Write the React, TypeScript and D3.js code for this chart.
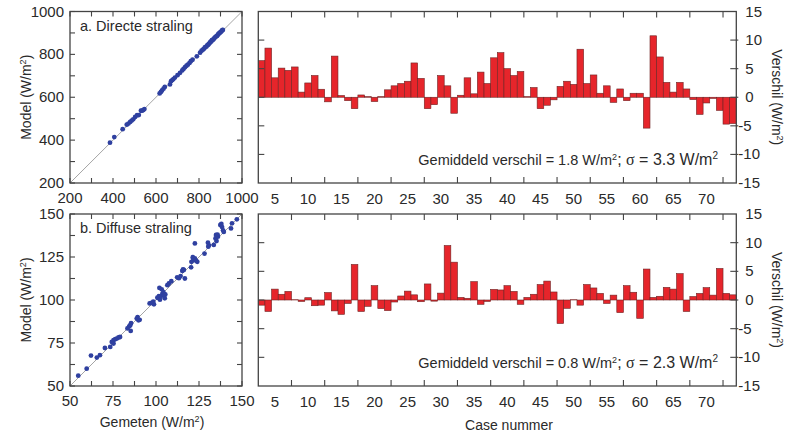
import React, { useEffect, useRef } from 'react'
import * as d3 from 'd3'

// case number of the first bar; one bar per case
const firstCase = 3

const directDiff = [
  6.4, 8.6, 3.4, 5.1, 4.7, 5.3, 0.9, 2.5, 3.8, 1.4,
  -0.8, 7.2, 0.3, -0.6, -2.0, 0.4, 0.1, -0.75, 0.1, 1.3,
  2.0, 2.4, 2.8, 6.0, 3.3, -2.0, -1.3, 3.8, 2.0, -2.8,
  0.35, 3.4, 0.6, 4.4, 2.4, 6.9, 7.8, 5.0, 3.8, 4.5,
  0.1, 1.7, -2.0, -1.4, -0.45, 1.9, 2.8, 2.25, 8.4, 2.4,
  3.9, 0.7, 2.0, -0.9, 1.45, -0.6, 0.7, 0.7, -5.4, 10.75,
  7.05, 2.6, 0.9, 2.6, 1.45, -0.4, -3.0, -1.0, -0.2, -2.3, -4.7, -4.6,
]

const diffuseDiff = [
  -0.9, -2.0, 1.9, 1.0, 1.5, 0.05, -0.25, 0.4, -1.0, -0.9,
  1.3, -1.9, -2.5, -0.6, 6.2, -2.0, -1.1, 2.5, -1.5, -1.85,
  -0.35, 0.7, 1.55, 0.9, -0.3, 2.8, -0.2, 1.2, 9.5, 6.6,
  0.45, 0.3, 3.2, -0.75, -0.25, 1.85, 1.75, 2.5, 1.5, -0.75,
  0.45, 1.0, 2.7, 3.3, 1.4, -4.1, -1.45, 0.05, -0.9, 2.7,
  2.1, 1.15, -0.6, 0.85, -2.2, 2.5, 1.35, -3.2, 5.4, 0.45,
  0.65, 2.2, 1.9, 4.6, -2.0, 0.6, 1.15, 2.15, 0.85, 5.5, 1.15, 0.9,
]

const directMeasured = [
  386, 406, 445, 464, 472, 480, 487, 494, 503, 512,
  520, 530, 536, 541, 546, 617, 623, 628, 635, 641,
  665, 670, 676, 681, 688, 700, 712, 722, 728, 735,
  742, 748, 756, 762, 770, 790, 805, 812, 818, 823,
  827, 831, 835, 839, 843, 846, 850, 853, 857, 860,
  864, 868, 872, 876, 880, 884, 887, 890, 893, 896,
  899, 902, 905, 908, 911,
]
const directModel = [
  388, 414, 451, 472, 477, 485, 491, 497, 508, 516,
  517, 537, 538, 540, 545, 618, 625, 632, 640, 648,
  660, 675, 680, 685, 692, 703, 714, 725, 732, 740,
  747, 752, 760, 768, 775, 791, 808, 817, 822, 826,
  832, 834, 837, 843, 845, 849, 853, 858, 860, 866,
  867, 871, 877, 880, 884, 886, 890, 895, 897, 900,
  903, 905, 908, 913, 914,
]

const diffuseMeasured = [
  54.8, 59.7, 62.2, 65.6, 67.4, 70.3, 73.4, 74.3, 75.3, 76.3,
  77.2, 78.2, 79.1, 75.3, 83.4, 84.4, 85.3, 85.5, 85.0, 88.8,
  89.3, 89.8, 90.5, 96.3, 97.3, 98.8, 98.4, 100.8, 101.7, 102.3,
  102.7, 103.7, 104.3, 104.7, 105.1, 105.4, 102.0, 103.3, 106.6, 107.5,
  108.9, 112.3, 113.3, 114.3, 115.3, 116.2, 116.8, 115.7, 120.4, 121.4,
  120.6, 121.6, 122.0, 122.6, 123.4, 124.0, 122.6, 128.2, 130.2, 130.8,
  130.4, 133.6, 134.6, 135.2, 136.0, 135.8, 134.9, 137.4, 138.0, 138.4,
  139.0, 139.4, 143.6, 144.2, 147.0,
]
const diffuseModel = [
  56.0, 60.1, 67.7, 66.5, 67.9, 72.1, 72.7, 75.6, 76.6, 77.2,
  77.6, 78.2, 78.5, 74.7, 83.5, 84.7, 82.0, 86.5, 85.2, 89.2,
  90.1, 88.2, 88.5, 98.0, 98.3, 97.5, 99.0, 101.3, 102.3, 100.2,
  102.0, 103.5, 104.5, 102.5, 101.0, 103.2, 107.0, 106.2, 108.6, 109.6,
  110.9, 113.2, 112.7, 113.9, 116.9, 117.5, 112.5, 117.8, 119.0, 124.9,
  122.2, 124.2, 123.2, 124.2, 122.8, 122.2, 132.9, 127.0, 133.3, 131.8,
  131.0, 132.0, 135.8, 134.3, 136.8, 138.0, 137.8, 143.6, 144.2, 142.4,
  140.5, 139.6, 141.6, 144.6, 146.9,
]

const caseTicks = [5, 10, 15, 20, 25, 30, 35, 40, 45, 50, 55, 60, 65, 70]
const diffTicks = [-15, -10, -5, 0, 5, 10, 15]
const directTicks = [200, 400, 600, 800, 1000]
const directMinor = [200, 300, 400, 500, 600, 700, 800, 900, 1000]
const diffuseTicks = [50, 75, 100, 125, 150]
const diffuseMinor = [50, 62.5, 75, 87.5, 100, 112.5, 125, 137.5, 150]

const FONT = "'Liberation Sans', Arial, Helvetica, sans-serif"
const INK = '#2a2a2a'
const FRAME = '#444'
const TICK_FS = 15

// text with superscripts; parts: [plain, sup, plain, sup ...]
const unitText = (t, parts, size = 14) => {
  parts.forEach((p, i) => {
    if (i % 2 === 0) {
      t.append('tspan').attr('dy', i === 0 ? 0 : 5).attr('font-size', size).text(p)
    } else {
      t.append('tspan').attr('dy', -5).attr('font-size', 9).text(p)
    }
  })
}

const drawScatter = (svg, o) => {
  const x = d3.scaleLinear().domain(o.domain).range([70, 242])
  const y = d3.scaleLinear().domain(o.domain).range([o.bottom, o.top])
  const g = svg.append('g')

  g.append('line')
    .attr('x1', x(o.domain[0])).attr('y1', y(o.domain[0]))
    .attr('x2', x(o.domain[1])).attr('y2', y(o.domain[1]))
    .attr('stroke', '#9a9a9a').attr('stroke-width', 0.9)

  g.selectAll('circle')
    .data(o.xs)
    .enter()
    .append('circle')
    .attr('cx', (d) => x(d))
    .attr('cy', (d, i) => y(o.ys[i]))
    .attr('r', 2.4)
    .attr('fill', '#2f40a0')

  // inward ticks on all four sides
  const tk = g.append('g').attr('stroke', FRAME).attr('stroke-width', 1.1)
  o.minor.forEach((v) => {
    tk.append('line').attr('x1', x(v)).attr('x2', x(v)).attr('y1', o.bottom).attr('y2', o.bottom - 5)
    tk.append('line').attr('x1', x(v)).attr('x2', x(v)).attr('y1', o.top).attr('y2', o.top + 5)
    tk.append('line').attr('y1', y(v)).attr('y2', y(v)).attr('x1', 70).attr('x2', 75)
    tk.append('line').attr('y1', y(v)).attr('y2', y(v)).attr('x1', 242).attr('x2', 237)
  })

  g.append('rect')
    .attr('x', 70).attr('y', o.top).attr('width', 172).attr('height', o.bottom - o.top)
    .attr('fill', 'none').attr('stroke', FRAME).attr('stroke-width', 1.3)

  o.ticks.forEach((v) => {
    g.append('text')
      .attr('x', 64).attr('y', y(v) + 5)
      .attr('text-anchor', 'end').attr('font-size', TICK_FS).attr('fill', INK)
      .text(v)
    g.append('text')
      .attr('x', x(v)).attr('y', o.bottom + 20)
      .attr('text-anchor', 'middle').attr('font-size', TICK_FS).attr('fill', INK)
      .text(v)
  })

  g.append('text')
    .attr('x', 80).attr('y', o.top + 19)
    .attr('font-size', 14.5).attr('fill', INK)
    .text(o.title)

  const yl = g.append('text')
    .attr('transform', `translate(31,${(o.top + o.bottom) / 2}) rotate(-90)`)
    .attr('text-anchor', 'middle').attr('fill', INK)
  unitText(yl, ['Model (W/m', '2', ')'])

  if (o.xLabel) {
    const xl = g.append('text')
      .attr('x', 152).attr('y', 427)
      .attr('text-anchor', 'middle').attr('fill', INK)
    unitText(xl, ['Gemeten (W/m', '2', ')'])
  }
}

const drawBars = (svg, o) => {
  const left = 258.3
  const right = 736.3
  const n = o.values.length
  const x = d3.scaleLinear().domain([firstCase - 0.5, firstCase + n - 0.5]).range([left, right])
  const y = d3.scaleLinear().domain([-15, 15]).range([o.bottom, o.top])
  const g = svg.append('g')

  g.selectAll('rect.bar')
    .data(o.values)
    .enter()
    .append('rect')
    .attr('class', 'bar')
    .attr('x', (d, i) => x(firstCase + i - 0.5))
    .attr('width', (d, i) => x(firstCase + i + 0.5) - x(firstCase + i - 0.5))
    .attr('y', (d) => y(Math.max(0, d)))
    .attr('height', (d) => Math.abs(y(d) - y(0)))
    .attr('fill', '#e6252b')
    .attr('stroke', '#6e2424')
    .attr('stroke-width', 0.6)

  const tk = g.append('g').attr('stroke', FRAME).attr('stroke-width', 1.1)
  // tick marks sit 2.5 cases right of their labels, as in the original
  caseTicks.forEach((v) => {
    const tx = x(v + 2.5)
    tk.append('line').attr('x1', tx).attr('x2', tx).attr('y1', o.bottom).attr('y2', o.bottom - 6)
    tk.append('line').attr('x1', tx).attr('x2', tx).attr('y1', o.top).attr('y2', o.top + 6)
    g.append('text')
      .attr('x', x(v)).attr('y', o.bottom + 21)
      .attr('text-anchor', 'middle').attr('font-size', TICK_FS).attr('fill', INK)
      .text(v)
  })
  diffTicks.slice(1, -1).forEach((v) => {
    tk.append('line').attr('x1', left).attr('x2', left + 6).attr('y1', y(v)).attr('y2', y(v))
    tk.append('line').attr('x1', right - 6).attr('x2', right + 2).attr('y1', y(v)).attr('y2', y(v))
  })
  diffTicks.forEach((v) => {
    g.append('text')
      .attr('x', v < 0 ? right + 2 : right + 9).attr('y', y(v) + 5)
      .attr('font-size', TICK_FS).attr('fill', INK)
      .text(v)
  })

  g.append('rect')
    .attr('x', left).attr('y', o.top).attr('width', right - left).attr('height', o.bottom - o.top)
    .attr('fill', 'none').attr('stroke', FRAME).attr('stroke-width', 1.3)

  // mean / sigma note; the sigma half is set a size larger, as in the original
  const note = g.append('text')
    .attr('x', 718).attr('y', o.bottom - 18)
    .attr('text-anchor', 'end').attr('fill', INK)
  note.append('tspan').attr('font-size', 14.5).text(`Gemiddeld verschil = ${o.mean} W/m`)
  note.append('tspan').attr('dy', -5).attr('font-size', 9).text('2')
  note.append('tspan').attr('dy', 5).attr('font-size', 16).text('; ')
  note.append('tspan').attr('font-size', 16).attr('font-family', "'Liberation Serif', serif").text('\u03c3')
  note.append('tspan').attr('font-size', 16).text(` = ${o.sd} W/m`)
  note.append('tspan').attr('dy', -6).attr('font-size', 10).text('2')

  const rl = g.append('text')
    .attr('transform', `translate(772,${(o.top + o.bottom) / 2}) rotate(90)`)
    .attr('text-anchor', 'middle').attr('fill', INK)
  unitText(rl, ['Verschil (W/m', '2', ')'])

  if (o.xLabel) {
    g.append('text')
      .attr('x', 509).attr('y', 430)
      .attr('text-anchor', 'middle').attr('font-size', 14).attr('fill', INK)
      .text('Case nummer')
  }
}

export const App = () => {
  const ref = useRef(null)

  useEffect(() => {
    const svg = d3.select(ref.current)
    svg.selectAll('*').remove()
    svg.append('rect').attr('width', 785).attr('height', 434).attr('fill', '#fff')

    drawScatter(svg, {
      top: 11.5, bottom: 183, domain: [200, 1000], ticks: directTicks, minor: directMinor,
      xs: directMeasured, ys: directModel, title: 'a. Directe straling', xLabel: false,
    })
    drawScatter(svg, {
      top: 214, bottom: 386, domain: [50, 150], ticks: diffuseTicks, minor: diffuseMinor,
      xs: diffuseMeasured, ys: diffuseModel, title: 'b. Diffuse straling', xLabel: true,
    })
    drawBars(svg, { top: 11.5, bottom: 183, values: directDiff, mean: '1.8', sd: '3.3', xLabel: false })
    drawBars(svg, { top: 214, bottom: 386, values: diffuseDiff, mean: '0.8', sd: '2.3', xLabel: true })
  }, [])

  return (
    <svg
      ref={ref}
      width={785}
      height={434}
      style={{ position: 'absolute', left: 0, top: 0, fontFamily: FONT }}
    ></svg>
  )
}

export default App
